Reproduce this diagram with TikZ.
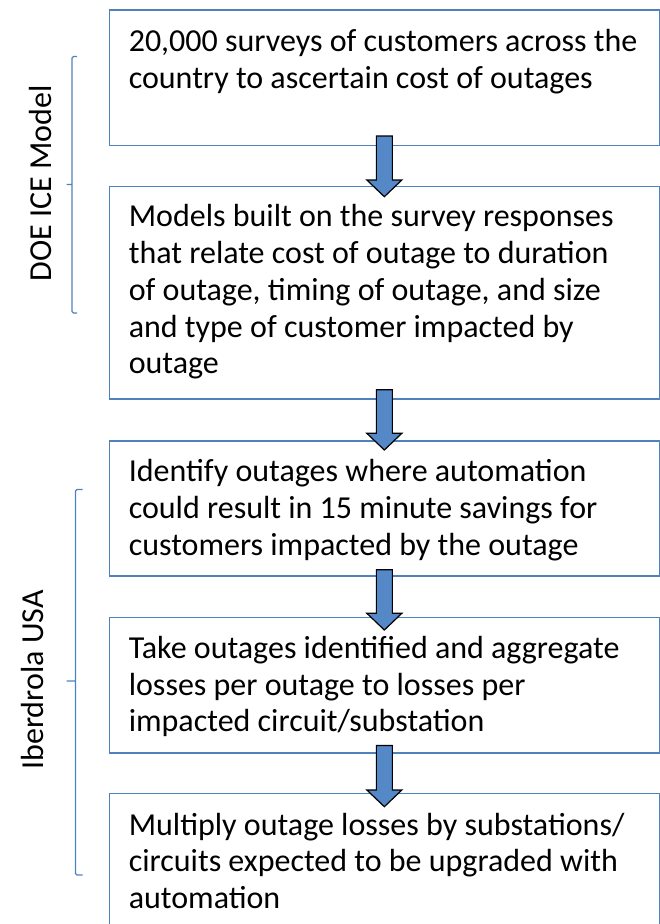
\documentclass[tikz,border=0pt]{standalone}
\usepackage{fontspec}
\setmainfont{Carlito}
\usetikzlibrary{calc}

\definecolor{boxblue}{RGB}{79,129,189}
\definecolor{arrowfill}{RGB}{84,136,199}

\tikzset{
  stepbox/.style={draw=boxblue, line width=1.5pt, rectangle, inner sep=0pt,
    minimum width=550pt, anchor=north west},
  boxtext/.style={anchor=base west, inner sep=0pt, font=\fontsize{32}{36.8}\selectfont},
  sidelabel/.style={rotate=90, anchor=base, inner sep=0pt, font=\fontsize{32}{38}\selectfont},
  brace/.style={draw=boxblue, line width=1.3pt, rounded corners=1.5pt},
  blockarrow/.style={draw=black, fill=arrowfill, line width=1.2pt, line join=miter,
    to path={let \p1=(\tikztostart), \p2=(\tikztotarget) in
      (\x1-8pt,\y1) -- (\x1+8pt,\y1) -- (\x1+8pt,\y2+16.7pt) -- (\x1+17.5pt,\y2+16.7pt)
      -- (\x1,\y2) -- (\x1-17.5pt,\y2+16.7pt) -- (\x1-8pt,\y2+16.7pt) -- cycle}}
}

\begin{document}
\begin{tikzpicture}[x=1pt,y=-1pt]
\useasboundingbox (0,0) rectangle (660,924);
\clip (0,0) rectangle (660,924);

% boxes
\node[stepbox, minimum height=135.2pt] (b1) at (108.6,9.3) {};
\node[stepbox, minimum height=212.8pt] (b2) at (108.6,185.5) {};
\node[stepbox, minimum height=135pt] (b3) at (108.6,440) {};
\node[stepbox, minimum height=135.6pt] (b4) at (108.6,616.7) {};
\node[stepbox, minimum height=150pt] (b5) at (108.6,792.7) {};

% box texts
\node[boxtext] (t1) at ($(b1.north west)+(20,42.4)$) {\parbox[t]{530pt}{20,000 surveys of customers across the\\country to ascertain cost of outages}};
\node[boxtext] (t2) at ($(b2.north west)+(20,41.2)$) {\parbox[t]{530pt}{Models built on the survey responses\\that relate cost of outage to duration\\of outage, timing of outage, and size\\and type of customer impacted by\\outage}};
\node[boxtext] (t3) at ($(b3.north west)+(20,41.7)$) {\parbox[t]{530pt}{Identify outages where automation\\could result in 15 minute savings for\\customers impacted by the outage}};
\node[boxtext] (t4) at ($(b4.north west)+(20,41.6)$) {\parbox[t]{530pt}{Take outages identified and aggregate\\losses per outage to losses per\\impacted circuit/substation}};
\node[boxtext] (t5) at ($(b5.north west)+(20,42.3)$) {\parbox[t]{530pt}{Multiply outage losses by substations/\\circuits expected to be upgraded with\\automation}};

% arrows
\coordinate (a1s) at ([yshift=10pt]b1.south);
\coordinate (a1e) at ([yshift=-11.2pt]b2.north);
\coordinate (a2s) at ([yshift=10pt]b2.south);
\coordinate (a2e) at ([yshift=-10pt]b3.north);
\coordinate (a3s) at ([yshift=6.7pt]b3.south);
\coordinate (a3e) at ([yshift=-13.3pt]b4.north);
\coordinate (a4s) at ([yshift=8.3pt]b4.south);
\coordinate (a4e) at ([yshift=-14pt]b5.north);
\draw[blockarrow] (a1s) to (a1e);
\draw[blockarrow] (a2s) to (a2e);
\draw[blockarrow] (a3s) to (a3e);
\draw[blockarrow] (a4s) to (a4e);

% brackets
\draw[brace] (77,56.5) -- (72,56.5) -- (72,313) -- (77,313) (72,184.5) -- (66.5,184.5);
\draw[brace] (82.5,489.5) -- (75.5,489.5) -- (75.5,875) -- (82.5,875) (75.5,681) -- (66.5,681);

% labels
\node[sidelabel] (doe) at (51.7,183.3) {DOE ICE Model};
\node[sidelabel] (ibd) at (43.3,680) {Iberdrola USA};

\end{tikzpicture}
\end{document}
